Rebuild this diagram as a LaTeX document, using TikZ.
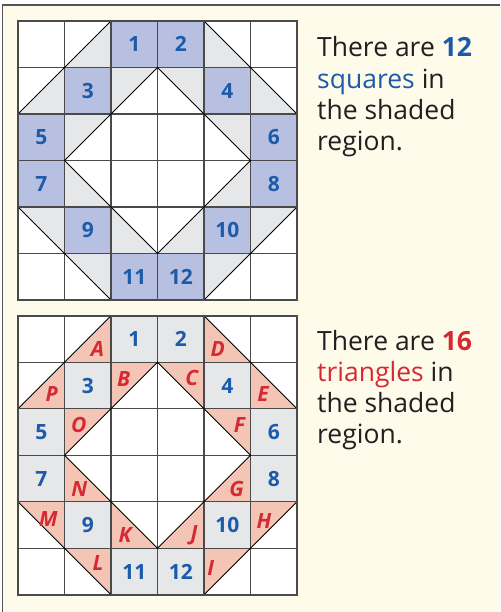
\documentclass[tikz,border=0pt]{standalone}
\usepackage{fontspec}
\setmainfont{Open Sans}
\definecolor{cream}{HTML}{FFFBEA}
\definecolor{framegray}{HTML}{555555}
\definecolor{gridgray}{HTML}{4A4A4A}
\definecolor{sqblue}{HTML}{B8C0E1}
\definecolor{lightgray}{HTML}{E6E7E9}
\definecolor{salmon}{HTML}{F4C4B4}
\definecolor{numblue}{HTML}{1C5BAA}
\definecolor{letred}{HTML}{D52A33}
\definecolor{textdark}{HTML}{231F20}
\tikzset{
  gridline/.style={draw=gridgray, line width=1.1pt},
  gridborder/.style={draw=gridgray, line width=1.5pt},
  diagline/.style={draw=black, line width=0.8pt, line cap=round},
  numlabel/.style={text=numblue, font=\fontsize{21}{25}\selectfont\bfseries, inner sep=0pt},
  letlabel/.style={text=letred, font=\fontsize{21}{25}\selectfont\bfseries\itshape, inner sep=0pt},
  bodytext/.style={anchor=base west, inner sep=0pt, text=textdark, font=\fontsize{26.5}{31}\selectfont}
}
\newcommand{\trilist}{2/0/2/1/1/1, 1/1/1/2/0/2, 2/1/3/1/2/2, 1/2/2/2/1/3,
  4/0/4/1/5/1, 5/1/5/2/6/2, 3/1/4/1/4/2, 4/2/5/2/5/3,
  5/3/5/4/4/4, 5/4/6/4/5/5, 1/3/1/4/2/4, 0/4/1/4/1/5,
  2/4/2/5/3/5, 1/5/2/5/2/6, 4/4/4/5/3/5, 4/5/5/5/4/6}
\begin{document}
\begin{tikzpicture}[x=1pt,y=-1pt]
\useasboundingbox (0,0) rectangle (500,612);
\fill[cream] (2.7,5) rectangle (500,612);
\draw[framegray, line width=1.2pt] (2.7,612) -- (2.7,5) -- (500,5);

% ---------- top grid ----------
\begin{scope}[shift={(18,21)}, x=46.5pt, y=-46.5pt]
  \fill[white] (0,0) rectangle (6,6);
  \foreach \c/\r in {2/0,3/0,1/1,4/1,0/2,5/2,0/3,5/3,1/4,4/4,2/5,3/5}
    \fill[sqblue] (\c,\r) rectangle ++(1,1);
  \foreach \ax/\ay/\bx/\by/\cx/\cy in \trilist
    \fill[lightgray] (\ax,\ay) -- (\bx,\by) -- (\cx,\cy) -- cycle;
  \foreach \i in {1,...,5} {
    \draw[gridline] (\i,0) -- (\i,6);
    \draw[gridline] (0,\i) -- (6,\i);
  }
  \draw[diagline] (2,0) -- (0,2);
  \draw[diagline] (4,0) -- (6,2);
  \draw[diagline] (6,4) -- (4,6);
  \draw[diagline] (2,6) -- (0,4);
  \draw[diagline] (3,1) -- (1,3) -- (3,5) -- (5,3) -- cycle;
  \draw[gridborder] (0,0) rectangle (6,6);
  \foreach \c/\r/\n in {2/0/1,3/0/2,1/1/3,4/1/4,0/2/5,5/2/6,0/3/7,5/3/8,1/4/9,4/4/10,2/5/11,3/5/12}
    \node[numlabel] (ta\n) at (\c+0.5,\r+0.5) {\n};
\end{scope}

% ---------- bottom grid ----------
\begin{scope}[shift={(18,315.8)}, x=46.5pt, y=-46.5pt]
  \fill[white] (0,0) rectangle (6,6);
  \foreach \c/\r in {2/0,3/0,1/1,4/1,0/2,5/2,0/3,5/3,1/4,4/4,2/5,3/5}
    \fill[lightgray] (\c,\r) rectangle ++(1,1);
  \foreach \ax/\ay/\bx/\by/\cx/\cy in \trilist
    \fill[salmon] (\ax,\ay) -- (\bx,\by) -- (\cx,\cy) -- cycle;
  \foreach \i in {1,...,5} {
    \draw[gridline] (\i,0) -- (\i,6);
    \draw[gridline] (0,\i) -- (6,\i);
  }
  \draw[diagline] (2,0) -- (0,2);
  \draw[diagline] (4,0) -- (6,2);
  \draw[diagline] (6,4) -- (4,6);
  \draw[diagline] (2,6) -- (0,4);
  \draw[diagline] (3,1) -- (1,3) -- (3,5) -- (5,3) -- cycle;
  \draw[gridborder] (0,0) rectangle (6,6);
  \foreach \c/\r/\n in {2/0/1,3/0/2,1/1/3,4/1/4,0/2/5,5/2/6,0/3/7,5/3/8,1/4/9,4/4/10,2/5/11,3/5/12}
    \node[numlabel] (tb\n) at (\c+0.5,\r+0.5) {\n};
\end{scope}

% triangle letters
\foreach \x/\y/\l in {97.5/349/A,123.7/378.8/B,191.7/377.5/C,217.7/349.2/D,263/394.5/E,
                      239.5/424.8/F,236.7/488.8/G,264/520.5/H,210.7/567.5/I,194/535/J,
                      125/534.8/K,98/563.3/L,48.3/518.8/M,79.2/488.8/N,78.8/425/O,51.7/394/P}
  \node[letlabel] (L\l) at (\x,\y) {\l};

% right-hand texts
\node[bodytext] (s1) at (317,57) {There are \textcolor{numblue}{\bfseries 12}};
\node[bodytext] (s2) at (317,88.3) {\textcolor{numblue}{squares} in};
\node[bodytext] (s3) at (317,119.6) {the shaded};
\node[bodytext] (s4) at (317,150.9) {region.};

\node[bodytext] (u1) at (317,350) {There are \textcolor{letred}{\bfseries 16}};
\node[bodytext] (u2) at (317,381.3) {\textcolor{letred}{triangles} in};
\node[bodytext] (u3) at (317,412.6) {the shaded};
\node[bodytext] (u4) at (317,443.9) {region.};
\end{tikzpicture}
\end{document}
